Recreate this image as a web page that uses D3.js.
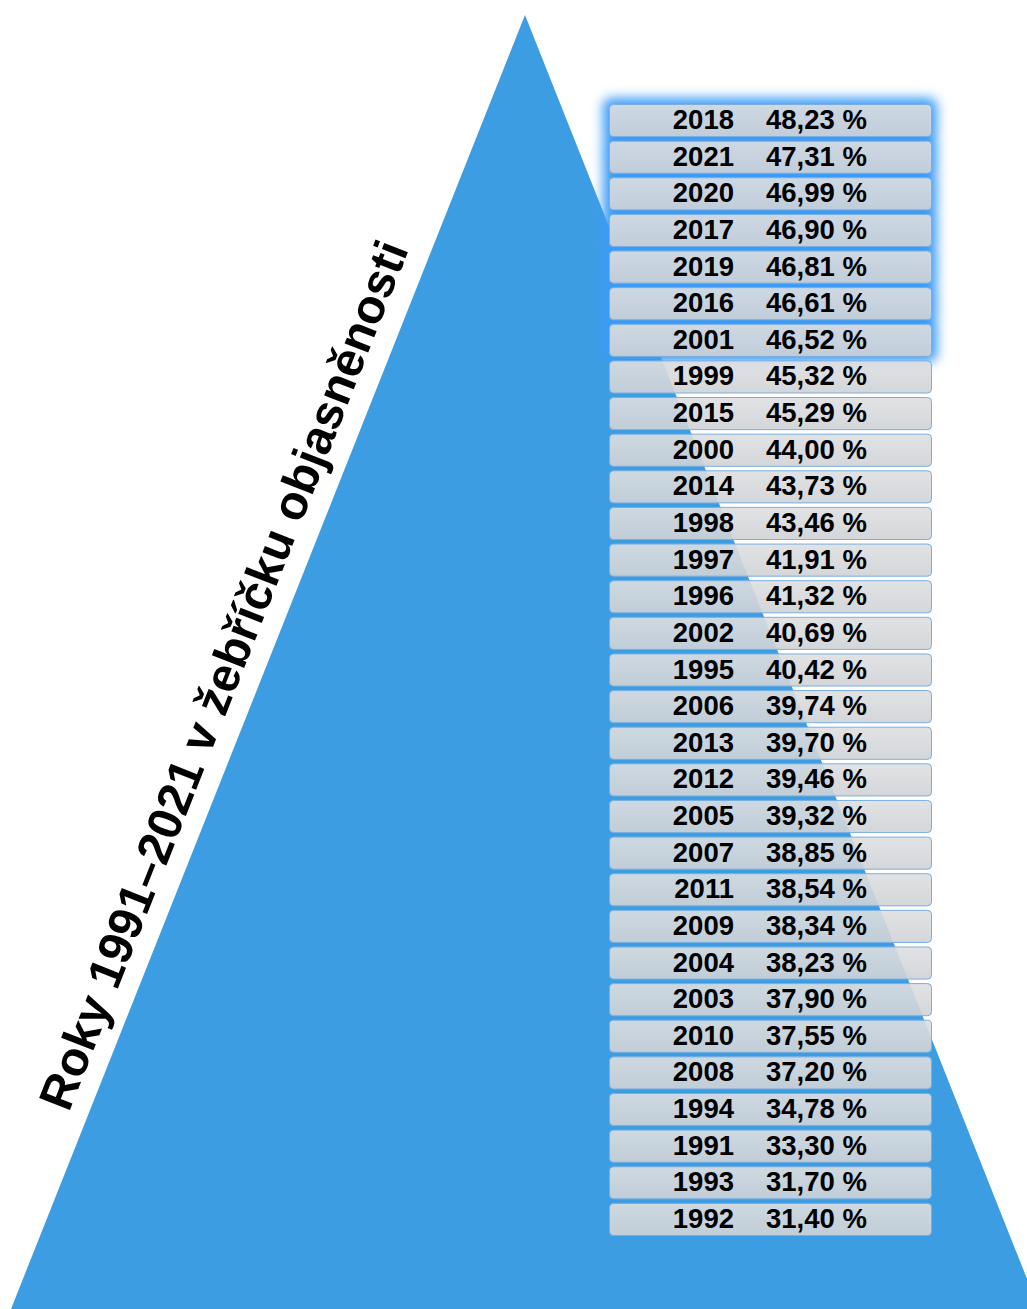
<!DOCTYPE html>
<html>
<head>
<meta charset="utf-8">
<script src="https://cdn.jsdelivr.net/npm/d3@7"></script>
<style>
  html, body { margin: 0; padding: 0; background: #ffffff; }
  svg { display: block; }
</style>
</head>
<body>
<script>
// ---- data ----
const years = ["2018","2021","2020","2017","2019","2016","2001","1999","2015","2000","2014","1998","1997","1996","2002","1995","2006","2013","2012","2005","2007","2011","2009","2004","2003","2010","2008","1994","1991","1993","1992"];
const values = [48.23,47.31,46.99,46.90,46.81,46.61,46.52,45.32,45.29,44.00,43.73,43.46,41.91,41.32,40.69,40.42,39.74,39.70,39.46,39.32,38.85,38.54,38.34,38.23,37.90,37.55,37.20,34.78,33.30,31.70,31.40];
const highlightCount = 7;
const title = "Roky 1991–2021 v žebříčku objasněnosti";

const W = 1027, H = 1309;
const svg = d3.select("body").append("svg").attr("width", W).attr("height", H);
const defs = svg.append("defs");

const grad = defs.append("linearGradient").attr("id","boxGrad").attr("x1",0).attr("y1",0).attr("x2",0).attr("y2",1);
grad.append("stop").attr("offset","0%").attr("stop-color","#dedfe1");
grad.append("stop").attr("offset","100%").attr("stop-color","#cfd2d6");

const glow = defs.append("filter").attr("id","glow").attr("x","-20%").attr("y","-50%").attr("width","140%").attr("height","200%");
glow.append("feGaussianBlur").attr("stdDeviation", 6);

// triangle (decorative pyramid)
const tri = d3.line()([[525,15],[11,1309],[1039,1309]]) + "Z";
svg.append("path").attr("d", tri).attr("fill", "#3d9de3");

// rows
const y = d3.scaleBand().domain(years).range([104, 1235]).paddingInner(0.123).paddingOuter(0);
const x0 = 609, x1 = 931;

// glow behind top rows
const glowG = svg.append("g").attr("filter","url(#glow)");
glowG.selectAll("rect").data(years.slice(0, highlightCount)).join("rect")
  .attr("x", x0 - 6).attr("y", d => y(d) - 6)
  .attr("width", x1 - x0 + 12).attr("height", y.bandwidth() + 12)
  .attr("rx", 8)
  .attr("fill", "#3a9bf7");

const rows = svg.append("g").selectAll("g").data(years).join("g");
rows.append("rect")
  .attr("x", x0 + 0.5).attr("y", d => y(d) + 0.5)
  .attr("width", x1 - x0).attr("height", y.bandwidth())
  .attr("rx", 4)
  .attr("fill", "url(#boxGrad)")
  .attr("fill-opacity", 0.9)
  .attr("stroke", "#7aaee0").attr("stroke-width", 1);

const fmt = v => v.toFixed(2).replace(".", ",") + " %";
rows.append("text")
  .attr("x", 734).attr("y", d => y(d) + y.bandwidth() / 2 + 9)
  .attr("text-anchor", "end")
  .attr("font-family", "'Liberation Sans', Arial, sans-serif")
  .attr("font-weight", "bold").attr("font-size", 27.5).attr("fill", "#000")
  .text(d => d);
rows.append("text")
  .attr("x", 766).attr("y", d => y(d) + y.bandwidth() / 2 + 9)
  .attr("font-family", "'Liberation Sans', Arial, sans-serif")
  .attr("font-weight", "bold").attr("font-size", 27.5).attr("fill", "#000")
  .text((d, i) => fmt(values[i]));

// rotated title along left edge
svg.append("text")
  .attr("transform", "translate(239,681) rotate(-68.5)")
  .attr("text-anchor", "middle")
  .attr("font-family", "'Liberation Sans', Arial, sans-serif")
  .attr("font-weight", "bold").attr("font-size", 48).attr("fill", "#000")
  .text(title);
</script>
</body>
</html>
